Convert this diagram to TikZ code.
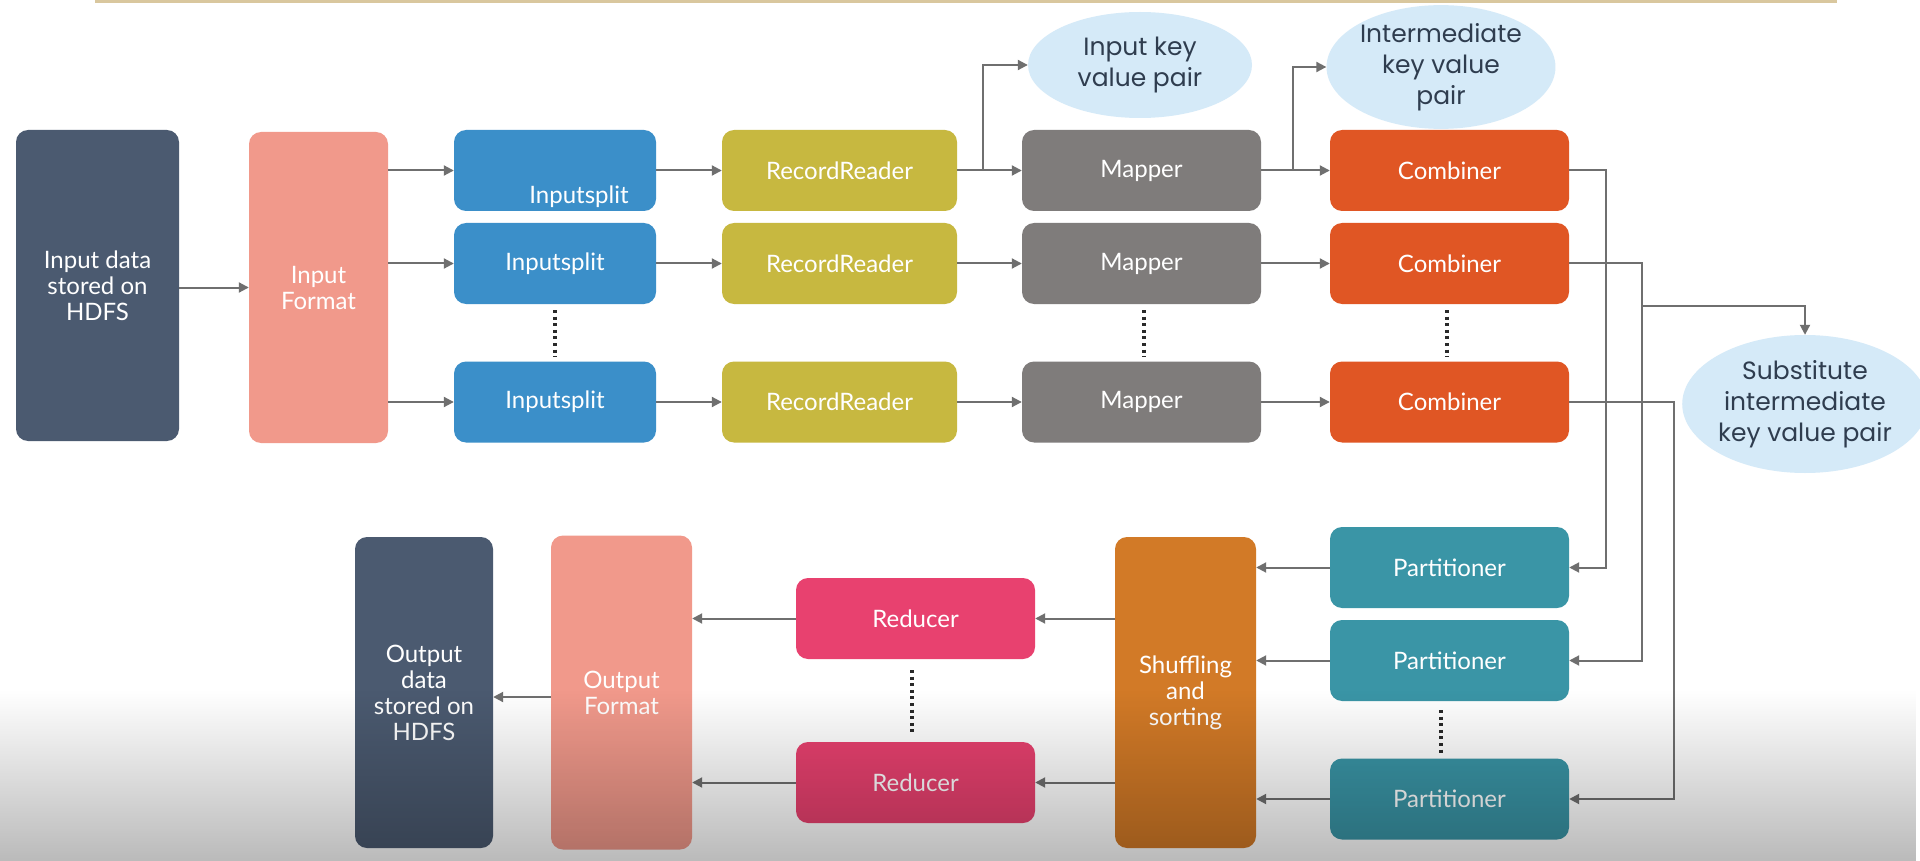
\documentclass[tikz,border=0pt]{standalone}
\usepackage{fontspec}
\setmainfont{Lato}
\newfontfamily\elfont{Poppins}
\usetikzlibrary{arrows.meta,fadings,shapes.geometric}
\tikzfading[name=fadedown, top color=transparent!100, middle color=transparent!55, bottom color=transparent!0]
\definecolor{cHDFS}{HTML}{4B5A70}
\definecolor{cFmt}{HTML}{F1998B}
\definecolor{cIS}{HTML}{3B8FC9}
\definecolor{cRR}{HTML}{C7B840}
\definecolor{cMap}{HTML}{7F7C7B}
\definecolor{cComb}{HTML}{E05624}
\definecolor{cPart}{HTML}{3A95A6}
\definecolor{cShuf}{HTML}{D27A27}
\definecolor{cRed}{HTML}{E8416F}
\definecolor{cEll}{HTML}{D5EAF8}
\definecolor{cEllT}{HTML}{2F3D4F}
\definecolor{cLine}{HTML}{6F6F6F}
\definecolor{cTop}{HTML}{D9C79E}
\definecolor{cDots}{HTML}{2A2A2A}
\begin{document}
\begin{tikzpicture}[x=1pt,y=-1pt,
  box/.style={rounded corners=12pt, inner sep=0pt, text=white, align=center,
    font=\fontsize{24}{26}\selectfont},
  tall/.style={box, minimum height=311pt},
  row/.style={box, minimum height=81pt},
  boxtext/.style={inner sep=0pt, text=white, font=\fontsize{24}{26}\selectfont},
  ell/.style={ellipse, fill=cEll, inner sep=0pt, text=cEllT, align=center,
    font=\elfont\fontsize{25}{31}\selectfont},
  arr/.style={draw=cLine, line width=2pt, -{Triangle[length=10pt,width=10pt]}},
  dots/.style={draw=cDots, line width=3.2pt, dash pattern=on 3pt off 3.6pt}]
\fill[white] (0,0) rectangle (1920,861);
\useasboundingbox (0,0) rectangle (1920,861);
\draw[cTop, line width=3pt] (95,1.5) -- (1837,1.5);

% top row
\node[tall, fill=cHDFS, minimum width=163pt] (indata) at (97.5,285.5) {Input data\\stored on\\HDFS};
\node[tall, fill=cFmt, minimum width=139pt] (infmt) at (318.5,287.5) {Input\\Format};

\node[row, fill=cIS, minimum width=202pt] (is1) at (555,170.5) {};
\node[boxtext] (is1t) at (579,197) {Inputsplit};
\node[row, fill=cIS, minimum width=202pt] (is2) at (555,263.5) {Inputsplit};
\node[row, fill=cIS, minimum width=202pt] (is3) at (555,402) {Inputsplit};

\node[row, fill=cRR, minimum width=235pt] (rr1) at (839.5,170.5) {RecordReader};
\node[row, fill=cRR, minimum width=235pt] (rr2) at (839.5,263.5) {RecordReader};
\node[row, fill=cRR, minimum width=235pt] (rr3) at (839.5,402) {RecordReader};

\node[row, fill=cMap, minimum width=239pt] (map1) at (1141.5,170.5) {Mapper};
\node[row, fill=cMap, minimum width=239pt] (map2) at (1141.5,263.5) {Mapper};
\node[row, fill=cMap, minimum width=239pt] (map3) at (1141.5,402) {Mapper};

\node[row, fill=cComb, minimum width=239pt] (comb1) at (1449.5,170.5) {Combiner};
\node[row, fill=cComb, minimum width=239pt] (comb2) at (1449.5,263.5) {Combiner};
\node[row, fill=cComb, minimum width=239pt] (comb3) at (1449.5,402) {Combiner};

\node[ell, minimum width=224pt, minimum height=106pt] (ikv) at (1140,65) {Input key\\value pair};
\node[ell, minimum width=202pt, minimum height=112pt] (mkv) at (1441,67) {Intermediate\\key value\\pair};
\node[ell, minimum width=212pt, minimum height=138pt] (skv) at (1805,404) {Substitute\\intermediate\\key value pair};

% bottom row
\node[row, fill=cPart, minimum width=239pt] (part1) at (1449.5,567.5) {Partitioner};
\node[row, fill=cPart, minimum width=239pt] (part2) at (1449.5,660.5) {Partitioner};
\node[row, fill=cPart, minimum width=239pt] (part3) at (1449.5,799) {Partitioner};

\node[tall, fill=cShuf, minimum width=141pt] (shuf) at (1185.5,692.5) {Shuffling\\and\\sorting};

\node[row, fill=cRed, minimum width=239pt] (red1) at (915.5,618.5) {Reducer};
\node[row, fill=cRed, minimum width=239pt] (red2) at (915.5,782.5) {Reducer};

\node[tall, fill=cFmt, minimum width=141pt, minimum height=314pt] (outfmt) at (621.5,692.5) {Output\\Format};
\node[tall, fill=cHDFS, minimum width=138pt] (outdata) at (424,692.5) {Output\\data\\stored on\\HDFS};

% dotted continuations
\draw[dots] (555,310) -- (555,357);
\draw[dots] (1144,310) -- (1144,357);
\draw[dots] (1447,310) -- (1447,357);
\draw[dots] (912,670) -- (912,735);
\draw[dots] (1441,710) -- (1441,755);

% connectors, top row
\draw[arr] (indata.east |- infmt.west) -- (infmt.west);
\foreach \i in {1,2,3}{
  \draw[arr] (infmt.east |- is\i.west) -- (is\i.west);
  \draw[arr] (is\i.east) -- (rr\i.west);
  \draw[arr] (rr\i.east) -- (map\i.west);
  \draw[arr] (map\i.east) -- (comb\i.west);
}
\coordinate (b1) at (983,170.5);
\coordinate (b2) at (1293,170.5);
\draw[arr] (b1) |- (ikv.west);
\draw[arr] (b2) |- (mkv.west);

% combiner to partitioner
\draw[arr] (comb1.east) -- ++(37,0) |- (part1.east);
\draw[arr] (comb2.east) -- ++(73,0) |- (part2.east);
\draw[arr] (comb3.east) -- ++(105,0) |- (part3.east);
\coordinate (j2) at (1642,306);
\draw[arr] (j2) -| (skv.north);

% bottom row connectors
\foreach \i in {1,2,3}{
  \draw[arr] (part\i.west) -- (shuf.east |- part\i.west);
}
\foreach \i in {1,2}{
  \draw[arr] (shuf.west |- red\i.east) -- (red\i.east);
  \draw[arr] (red\i.west) -- (outfmt.east |- red\i.west);
}
\draw[arr] (outfmt.west |- 0,697) -- (outdata.east |- 0,697);

% video-like shading at the bottom
\fill[black, opacity=0.27, path fading=fadedown] (0,690) rectangle (1920,861);
\end{tikzpicture}
\end{document}
